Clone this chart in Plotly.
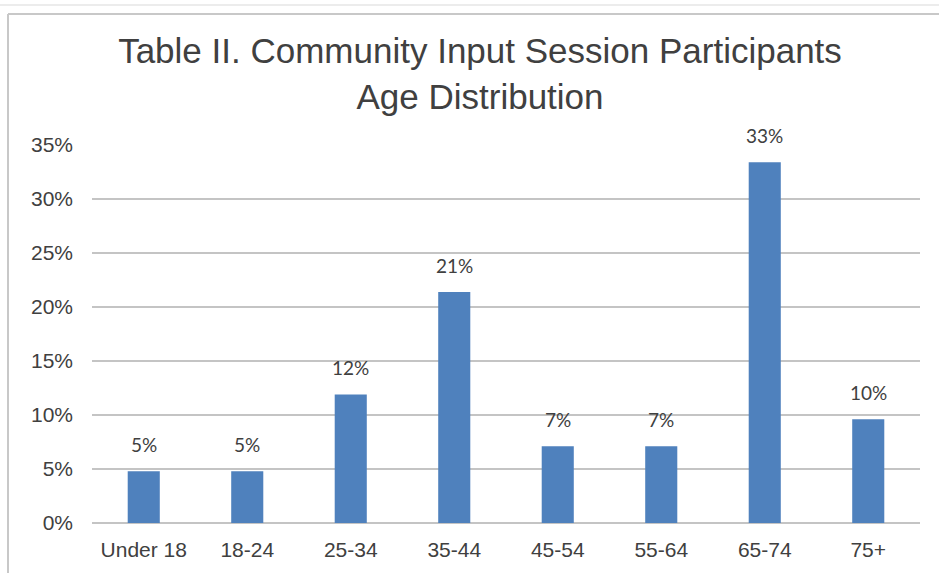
import plotly.graph_objects as go

categories = ["Under 18", "18-24", "25-34", "35-44", "45-54", "55-64", "65-74", "75+"]
values = [4.8, 4.8, 11.9, 21.4, 7.1, 7.1, 33.4, 9.6]
value_labels = [f"{round(v):.0f}%" for v in values]
y_ticks = [0, 5, 10, 15, 20, 25, 30, 35]
y_tick_labels = [f"{v}%" for v in y_ticks]

W, H = 939, 573
L, R, T, B = 92, 19, 145, 50
pw, ph = W - L - R, H - T - B

def px_x(p):
    return (p - L) / pw

def px_y(p):
    return (H - B - p) / ph

fig = go.Figure(go.Bar(
    x=categories, y=values,
    marker=dict(color="#4F81BD", line=dict(width=0)),
    width=0.31,
    hoverinfo="skip",
))

for c, v, t in zip(categories, values, value_labels):
    fig.add_annotation(
        x=c, y=v, text=t, showarrow=False, yanchor="bottom", yshift=13,
        font=dict(family="Lato, Carlito, sans-serif", size=19, color="#404040"),
    )

fig.update_layout(
    width=W, height=H,
    margin=dict(l=L, r=R, t=T, b=B),
    paper_bgcolor="white", plot_bgcolor="white",
    showlegend=False,
    title=dict(
        text="Table II. Community Input Session Participants<br>Age Distribution",
        x=480 / W, xanchor="center", xref="container",
        yref="container", y=1 - 63 / H, yanchor="top",
        font=dict(family="Liberation Sans, Arial, sans-serif", size=35, color="#404040"),
    ),
    xaxis=dict(
        showgrid=False, showline=False, zeroline=False,
        ticks="", ticklabelstandoff=12,
        tickfont=dict(family="Liberation Sans, Arial, sans-serif", size=21, color="#404040"),
    ),
    yaxis=dict(
        range=[0, 35], tickvals=y_ticks, ticktext=y_tick_labels,
        showgrid=True, gridcolor="#C4C4C4", gridwidth=2,
        zeroline=True, zerolinecolor="#C4C4C4", zerolinewidth=2,
        showline=False, ticks="", ticklabelstandoff=18,
        tickfont=dict(family="Liberation Sans, Arial, sans-serif", size=21, color="#404040"),
    ),
    shapes=[
        dict(type="line", xref="paper", yref="paper", x0=px_x(0), x1=px_x(W), y0=px_y(5), y1=px_y(5),
             line=dict(color="#D9D9D9", width=1)),
        dict(type="line", xref="paper", yref="paper", x0=px_x(8), x1=px_x(W), y0=px_y(14), y1=px_y(14),
             line=dict(color="#C8C8C8", width=2)),
        dict(type="line", xref="paper", yref="paper", x0=px_x(8), x1=px_x(8), y0=px_y(14), y1=px_y(H),
             line=dict(color="#C8C8C8", width=2)),
    ],
)

fig.write_html("out.html", config={"displayModeBar": False},
               post_script="document.body.style.margin='0';")
